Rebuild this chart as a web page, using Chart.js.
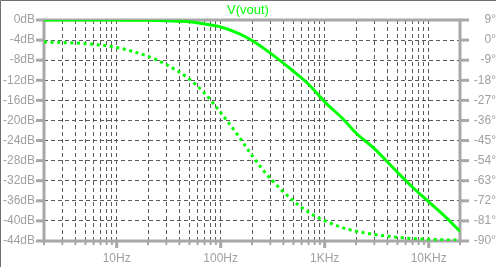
<!DOCTYPE html>
<html>
<head>
<meta charset="utf-8">
<script src="https://cdn.jsdelivr.net/npm/chart.js@4/dist/chart.umd.min.js"></script>
<style>
  html, body { margin: 0; padding: 0; background: #fff; }
  canvas { display: block; }
</style>
</head>
<body>
<canvas id="bode" width="496" height="267"></canvas>
<script>
// Bode plot of V(vout): magnitude (solid) and phase (dotted).

const freqHz   = [2, 5, 10, 20, 30, 50, 70, 100, 150, 200, 300, 500, 700, 1000, 1500, 2000, 3000, 5000, 7000, 10000, 15000, 20000];
const magDb    = [0, 0, -0.02, -0.07, -0.16, -0.36, -0.8, -1.4, -2.7, -4.1, -6.6, -10.2, -12.8, -16.3, -19.7, -22.5, -25.6, -30.3, -33.3, -36.2, -39.5, -42.1];
const phaseDeg = [-0.8, -1.6, -3.3, -7.3, -11.0, -17.5, -23.8, -32.5, -43.3, -51.7, -62.0, -72.0, -77.1, -80.9, -84.1, -85.6, -87.1, -88.3, -88.9, -89.2, -89.5, -89.6];

const freqTicks  = [2, 3, 4, 5, 6, 7, 8, 9, 10, 20, 30, 40, 50, 60, 70, 80, 90,
                    100, 200, 300, 400, 500, 600, 700, 800, 900,
                    1000, 2000, 3000, 4000, 5000, 6000, 7000, 8000, 9000, 10000, 20000];
const freqLabels = { 10: '10Hz', 100: '100Hz', 1000: '1KHz', 10000: '10KHz' };

const AXIS = '#a8a8a8';
const TEXT = '#a0a0a0';
const GRID = '#5a5a5a';
const GREEN = '#00ff00';
const FONT = 'Liberation Sans, Arial, sans-serif';

// frame + tick marks in LTspice style, drawn under the traces
const frame = {
    id: 'frame',
    beforeDatasetsDraw(chart) {
        const ctx = chart.ctx;
        const a = chart.chartArea;
        const x = chart.scales.x, yl = chart.scales.y, yr = chart.scales.y2;
        ctx.save();
        ctx.strokeStyle = AXIS;
        ctx.lineCap = 'butt';
        ctx.lineWidth = 3;
        ctx.strokeRect(a.left, a.top, a.right - a.left, a.bottom - a.top);

        yl.ticks.forEach(t => {
            const p = yl.getPixelForValue(t.value);
            ctx.beginPath(); ctx.moveTo(a.left - 8, p); ctx.lineTo(a.left, p); ctx.stroke();
        });
        yr.ticks.forEach(t => {
            const p = yr.getPixelForValue(t.value);
            ctx.beginPath(); ctx.moveTo(a.right, p); ctx.lineTo(a.right + 9, p); ctx.stroke();
        });
        freqTicks.forEach(v => {
            const p = x.getPixelForValue(v);
            const major = freqLabels[v] !== undefined;
            ctx.lineWidth = major ? 3 : 2;
            ctx.beginPath(); ctx.moveTo(p, a.bottom); ctx.lineTo(p, a.bottom + (major ? 7 : 4)); ctx.stroke();
        });

        // window edge
        ctx.lineWidth = 1;
        ctx.strokeStyle = '#707070';
        ctx.beginPath(); ctx.moveTo(0.5, 267); ctx.lineTo(0.5, 0.5); ctx.lineTo(496, 0.5); ctx.stroke();
        ctx.restore();
    }
};

new Chart(document.getElementById('bode'), {
    type: 'line',
    data: {
        datasets: [
            {
                label: 'magnitude',
                data: freqHz.map((f, i) => ({ x: f, y: magDb[i] })),
                yAxisID: 'y',
                borderColor: GREEN,
                borderWidth: 3,
                pointRadius: 0,
                cubicInterpolationMode: 'monotone',
                fill: false
            },
            {
                label: 'phase',
                data: freqHz.map((f, i) => ({ x: f, y: phaseDeg[i] })),
                yAxisID: 'y2',
                borderColor: GREEN,
                borderWidth: 3,
                borderDash: [3, 3.6],
                borderCapStyle: 'butt',
                pointRadius: 0,
                cubicInterpolationMode: 'monotone',
                fill: false
            }
        ]
    },
    options: {
        responsive: false,
        animation: false,
        events: [],
        layout: { padding: 0 },
        plugins: {
            legend: { display: false },
            tooltip: { enabled: false },
            title: {
                display: true,
                text: 'V(vout)',
                color: GREEN,
                font: { family: FONT, size: 13, weight: 'normal' },
                padding: { top: 2.6, bottom: 1.8 }
            }
        },
        scales: {
            x: {
                type: 'logarithmic',
                position: 'bottom',
                min: 2,
                max: 20000,
                afterBuildTicks: s => { s.ticks = freqTicks.map(v => ({ value: v })); },
                afterFit: s => { s.height = 26; },
                ticks: {
                    autoSkip: false,
                    maxRotation: 0,
                    padding: 10,
                    color: TEXT,
                    font: { family: FONT, size: 12 },
                    callback: v => freqLabels[v] || ''
                },
                grid: { color: GRID, lineWidth: 1, drawTicks: false },
                border: { display: false, dash: [4, 3] }
            },
            y: {
                position: 'left',
                min: -44,
                max: 0,
                afterFit: s => { s.width = 44; },
                ticks: {
                    stepSize: 4,
                    padding: 9,
                    color: TEXT,
                    font: { family: FONT, size: 12 },
                    callback: v => v + 'dB'
                },
                grid: { color: GRID, lineWidth: 1, drawTicks: false },
                border: { display: false, dash: [4, 3] }
            },
            y2: {
                position: 'right',
                min: -90,
                max: 9,
                afterFit: s => { s.width = 36; },
                ticks: {
                    stepSize: 9,
                    padding: 11,
                    crossAlign: 'far',
                    color: TEXT,
                    font: { family: FONT, size: 12 },
                    callback: v => v + '°'
                },
                grid: { drawOnChartArea: false, drawTicks: false },
                border: { display: false }
            }
        }
    },
    plugins: [frame]
});
</script>
</body>
</html>
